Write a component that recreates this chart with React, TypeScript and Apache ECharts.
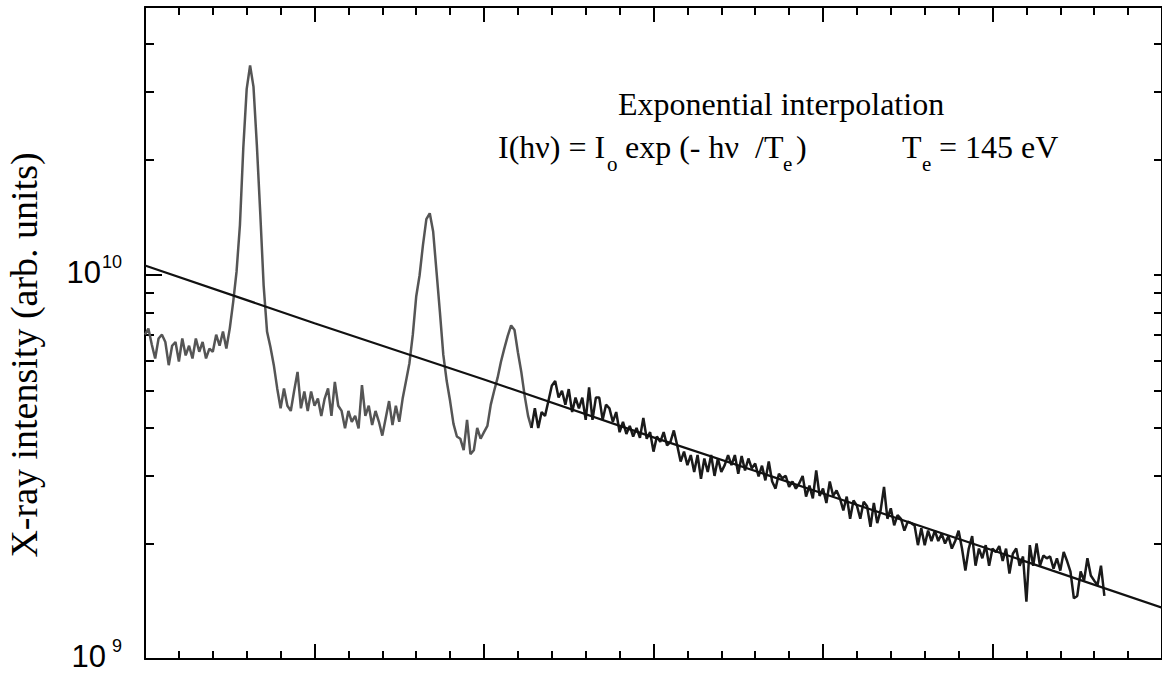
import React, { useEffect, useRef } from "react";
import * as echarts from "echarts";

// Photon energy channels (eV) — uniform detector channels
const hvStart = 200;
const hvStep = 1;
const hvMin = 200;
const hvMax = 500;
const hvInterval = 50;

// Intensity unit: 1e9 arb. units
const UNIT = 1e9;

// Spectrum part with lines (gray), channels 0..114
const grayI = [
  7.0, 7.26, 6.6, 6.07, 6.84, 7.0, 6.7, 5.83, 6.55, 6.7,
  5.96, 6.84, 6.18, 6.55, 6.07, 6.84, 6.32, 6.7, 6.07, 6.44,
  6.32, 7.0, 6.55, 7.13, 6.44, 7.26, 8.5, 10.2, 13.5, 21.5,
  30.6, 35.2, 31.0, 21.8, 14.5, 9.4, 7.13, 6.5, 5.83, 5.07,
  4.5, 5.07, 4.57, 4.43, 5.0, 5.6, 4.5, 4.98, 4.43, 4.98,
  4.57, 4.77, 4.3, 4.77, 5.07, 4.3, 5.27, 4.57, 4.43, 3.99,
  4.43, 4.15, 4.3, 3.99, 5.17, 4.3, 4.57, 4.07, 4.43, 4.15,
  3.82, 4.24, 4.7, 4.07, 4.57, 4.15, 4.77, 5.3, 5.9, 7.0,
  8.8, 10.0, 12.0, 14.0, 14.5, 13.0, 10.2, 8.0, 6.2, 5.3,
  4.7, 4.1, 3.8, 3.75, 3.5, 4.2, 3.42, 3.5, 4.0, 3.75,
  3.9, 4.05, 4.6, 5.0, 5.4, 5.95, 6.45, 6.95, 7.4, 7.2,
  6.3, 5.6, 4.85, 4.3, 4.0,
];

// Continuum part (black), starting at channel 114
const blackStartChannel = 114;
const blackI = [
  4.0, 4.5, 4.0, 4.4, 4.3, 4.7, 5.15, 5.3, 4.8, 5.0,
  4.6, 5.05, 4.4, 4.8, 4.5, 4.8, 4.2, 5.1, 4.2, 4.8,
  4.8, 4.2, 4.6, 4.5, 4.15, 4.4, 3.9, 4.15, 3.86, 4.05,
  3.8, 4.0, 3.77, 4.25, 3.75, 3.9, 3.47, 3.8, 3.68, 3.9,
  3.6, 3.68, 3.94, 3.6, 3.27, 3.47, 3.2, 3.4, 3.07, 3.4,
  2.95, 3.33, 3.07, 3.4, 3.0, 3.33, 3.07, 3.2, 3.4, 3.2,
  3.4, 3.04, 3.38, 3.1, 3.33, 3.14, 3.23, 2.99, 3.19, 2.92,
  3.27, 2.9, 2.78, 3.04, 2.96, 3.0, 2.81, 2.9, 2.78, 2.87,
  3.0, 2.65, 2.83, 2.62, 3.1, 2.66, 2.78, 2.55, 2.9, 2.66,
  2.75, 2.62, 2.44, 2.65, 2.32, 2.59, 2.51, 2.32, 2.57, 2.5,
  2.21, 2.55, 2.26, 2.44, 2.81, 2.32, 2.47, 2.23, 2.37, 2.32,
  2.16, 2.28, 2.26, 2.23, 1.98, 2.19, 1.98, 2.16, 2.03, 2.16,
  2.03, 2.12, 2.0, 2.09, 1.94, 2.03, 2.16, 1.94, 1.7, 1.94,
  2.09, 1.75, 1.94, 1.83, 1.98, 1.75, 1.94, 1.9, 1.97, 1.8,
  1.94, 1.67, 1.88, 1.94, 1.75, 1.85, 1.41, 1.98, 1.75, 2.0,
  1.75, 1.86, 1.83, 1.85, 1.72, 1.83, 1.7, 1.9, 1.8, 1.69,
  1.44, 1.46, 1.69, 1.6, 1.83, 1.65, 1.6, 1.56, 1.75, 1.46,
];

// Exponential interpolation line
const fitHv = [200, 250, 300, 350, 400, 450, 500];
const fitI = [10.6, 7.5, 5.35, 3.78, 2.7, 1.92, 1.36];

// Y axis ticks
const yMin = 1e9;
const yMax = 5e10;
const yMajorTicks = [1e9, 1e10];
const yMinorTicks = [2e9, 3e9, 4e9, 5e9, 6e9, 7e9, 8e9, 9e9, 2e10, 3e10, 4e10, 5e10];

const SERIF = '"Liberation Serif", "Times New Roman", serif';
const SANS = '"Liberation Sans", Arial, sans-serif';

function txt(x: number, y: number, text: string, size: number, extra: any = {}) {
  return {
    type: "text",
    x,
    y,
    silent: true,
    ...extra,
    style: {
      text,
      fontSize: size,
      fontFamily: SERIF,
      fill: "#000",
      align: extra.align || "left",
      textAlign: extra.align || "left",
      verticalAlign: "middle",
      textVerticalAlign: "middle",
    },
  };
}

export default function App() {
  const ref = useRef<HTMLDivElement>(null);
  useEffect(() => {
    if (!ref.current) return;
    const chart = echarts.init(ref.current, null, { renderer: "svg" });

    const grayData = grayI.map((v, i) => [hvStart + i * hvStep, v * UNIT]);
    const blackData = blackI.map((v, i) => [hvStart + (blackStartChannel + i) * hvStep, v * UNIT]);
    const fitData = fitHv.map((h, i) => [h, fitI[i] * UNIT]);

    const xBase = (position: "bottom" | "top") => ({
      type: "value",
      position,
      min: hvMin,
      max: hvMax,
      interval: hvInterval,
      axisLine: { show: true, onZero: false, lineStyle: { color: "#000", width: 2 } },
      axisTick: { show: true, inside: true, length: 15, lineStyle: { color: "#000", width: 2 } },
      minorTick: { show: true, splitNumber: 5, length: 8, lineStyle: { color: "#000", width: 2 } },
      axisLabel: { show: false },
      splitLine: { show: false },
      minorSplitLine: { show: false },
    });

    const yBase = (position: "left" | "right") => ({
      type: "log",
      logBase: 10,
      position,
      min: yMin,
      max: yMax,
      splitLine: { show: false },
      minorSplitLine: { show: false },
      minorTick: { show: false },
    });

    chart.setOption({
      animation: false,
      backgroundColor: "#fff",
      grid: { left: 145, right: -4, top: 7, bottom: 14, containLabel: false },
      xAxis: [xBase("bottom"), xBase("top")],
      yAxis: [
        {
          ...yBase("left"),
          axisLine: { show: true, lineStyle: { color: "#000", width: 2 } },
          axisTick: {
            show: true,
            inside: true,
            length: 17,
            customValues: yMajorTicks,
            lineStyle: { color: "#000", width: 2 },
          },
          axisLabel: {
            show: true,
            customValues: yMajorTicks,
            margin: 23,
            formatter: (v: number) => {
              const p = Math.round(Math.log10(v));
              return p >= 10 ? `{a|10}{b|${p}}` : `{a|10}{c|${p}}`;
            },
            rich: {
              a: { fontSize: 31, fontFamily: SANS, color: "#000", lineHeight: 32, verticalAlign: "bottom", padding: [0, 0, 3, 0] },
              b: { fontSize: 18, fontFamily: SANS, color: "#000", lineHeight: 32, verticalAlign: "bottom", padding: [0, 0, 20, 1] },
              c: { fontSize: 18, fontFamily: SANS, color: "#000", lineHeight: 32, verticalAlign: "bottom", padding: [0, 0, 20, 6] },
            },
          },
        },
        {
          ...yBase("left"),
          axisLine: { show: false },
          axisTick: {
            show: true,
            inside: true,
            length: 9,
            customValues: yMinorTicks,
            lineStyle: { color: "#000", width: 2 },
          },
          axisLabel: { show: false },
        },
        {
          ...yBase("right"),
          axisLine: { show: true, lineStyle: { color: "#000", width: 2 } },
          axisTick: {
            show: true,
            inside: true,
            length: 8,
            customValues: [...yMajorTicks, ...yMinorTicks],
            lineStyle: { color: "#000", width: 2 },
          },
          axisLabel: { show: false },
        },
      ],
      series: [
        {
          type: "line",
          name: "lines",
          xAxisIndex: 0,
          yAxisIndex: 0,
          data: grayData,
          showSymbol: false,
          symbol: "none",
          silent: true,
          lineStyle: { color: "#555555", width: 2.5 },
        },
        {
          type: "line",
          name: "continuum",
          xAxisIndex: 0,
          yAxisIndex: 0,
          data: blackData,
          showSymbol: false,
          symbol: "none",
          silent: true,
          lineStyle: { color: "#1a1a1a", width: 2.5 },
        },
        {
          type: "line",
          name: "fit",
          xAxisIndex: 0,
          yAxisIndex: 0,
          data: fitData,
          showSymbol: false,
          symbol: "none",
          silent: true,
          lineStyle: { color: "#111111", width: 2.2 },
        },
      ],
      graphic: [
        txt(24, 355, "X-ray intensity (arb. units)", 38, { rotation: Math.PI / 2, align: "center" }),
        txt(618, 104, "Exponential interpolation", 32),
        txt(498, 147, "I(hν) = I", 32),
        txt(607, 164, "o", 21),
        txt(625, 147, "exp (- hν  /T", 32),
        txt(783, 164, "e", 21),
        txt(796, 147, ")", 32),
        txt(902, 147, "T", 32),
        txt(922, 164, "e", 21),
        txt(939, 147, "= 145 eV", 32),
      ],
    });
    return () => chart.dispose();
  }, []);
  return (
    <div
      ref={ref}
      style={{ position: "fixed", left: 0, top: 0, width: 1162, height: 675, background: "#fff" }}
    />
  );
}
